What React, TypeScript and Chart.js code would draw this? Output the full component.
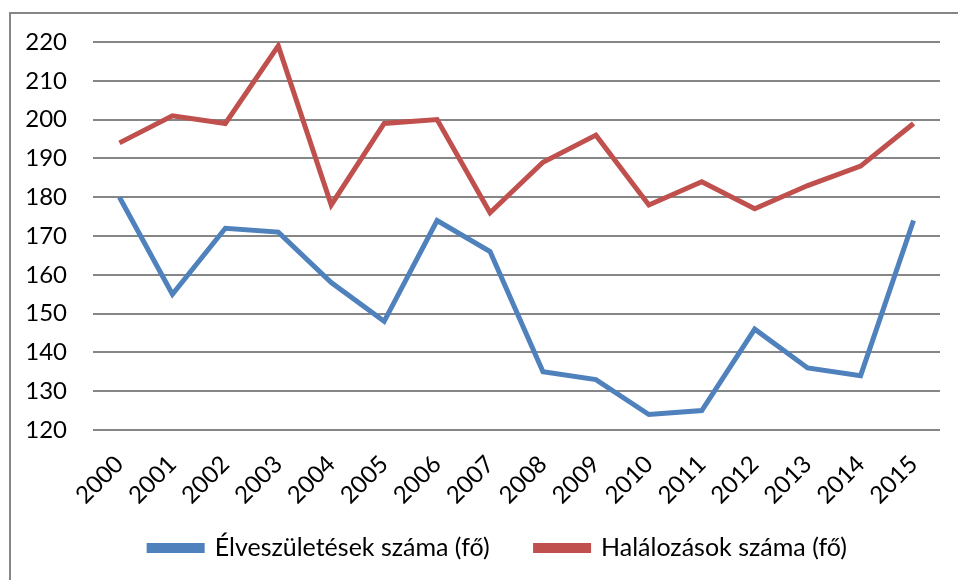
import React, { useEffect, useRef } from "react";
import { Chart, registerables } from "chart.js";

Chart.register(...registerables);

const years = ["2000","2001","2002","2003","2004","2005","2006","2007","2008","2009","2010","2011","2012","2013","2014","2015"];
const births = [180, 155, 172, 171, 158, 148, 174, 166, 135, 133, 124, 125, 146, 136, 134, 174];
const deaths = [194, 201, 199, 219, 178, 199, 200, 176, 189, 196, 178, 184, 177, 183, 188, 199];
const seriesNames = ["Élveszületések száma (fő)", "Halálozások száma (fő)"];

const FONT = "Lato, 'Liberation Sans', sans-serif";
const LEGEND_PAD = 46;
const LEGEND_FONT = 25;

const legendShift = {
  id: "legendShift",
  afterLayout(chart: any) {
    const lg = chart.legend;
    if (!lg) return;
    const wantTop = 548 - LEGEND_PAD - LEGEND_FONT / 2;
    const dy = wantTop - lg.top;
    lg.top += dy;
    lg.bottom += dy;
    const dx = 28;
    lg.left += dx;
    lg.right += dx;
  },
};

export default function App() {
  const ref = useRef<HTMLCanvasElement>(null);
  useEffect(() => {
    document.body.style.margin = "0";
    const chart = new Chart(ref.current!, {
      type: "line",
      data: {
        labels: years,
        datasets: [
          { label: seriesNames[0], data: births, borderColor: "#4F81BD", backgroundColor: "#4F81BD", borderWidth: 5, pointRadius: 0, tension: 0 },
          { label: seriesNames[1], data: deaths, borderColor: "#C0504D", backgroundColor: "#C0504D", borderWidth: 5, pointRadius: 0, tension: 0 },
        ],
      },
      options: {
        animation: false,
        responsive: false,
        layout: { padding: { top: 42, right: 18, left: 0, bottom: 0 } },
        plugins: {
          tooltip: { enabled: false },
          legend: {
            position: "bottom",
            maxHeight: 70,
            labels: {
              boxWidth: 53,
              boxHeight: 5,
              padding: LEGEND_PAD,
              color: "#000",
              font: { family: FONT, size: LEGEND_FONT },
            },
          },
        },
        scales: {
          x: {
            offset: true,
            grid: { display: false },
            border: { display: false },
            ticks: { color: "#000", font: { family: FONT, size: 24 }, minRotation: 45, maxRotation: 45, padding: 12, autoSkip: false },
            afterFit: (s: any) => { s.height = 80; },
          },
          y: {
            min: 120,
            max: 220,
            grid: { color: "#868686", lineWidth: 2, drawTicks: false },
            border: { display: false },
            ticks: { stepSize: 10, color: "#000", font: { family: FONT, size: 24 }, padding: 26 },
            afterFit: (s: any) => { s.width = 93; },
          },
        },
      },
      plugins: [legendShift],
    });
    return () => chart.destroy();
  }, []);
  return (
    <div style={{ position: "relative", width: 958, height: 580, overflow: "hidden", background: "#fff" }}>
      <div style={{ position: "absolute", left: 9, top: 12, width: 1200, height: 1200, border: "2px solid #868686" }} />
      <canvas ref={ref} width={958} height={580} style={{ position: "absolute", left: 0, top: 0 }} />
    </div>
  );
}
